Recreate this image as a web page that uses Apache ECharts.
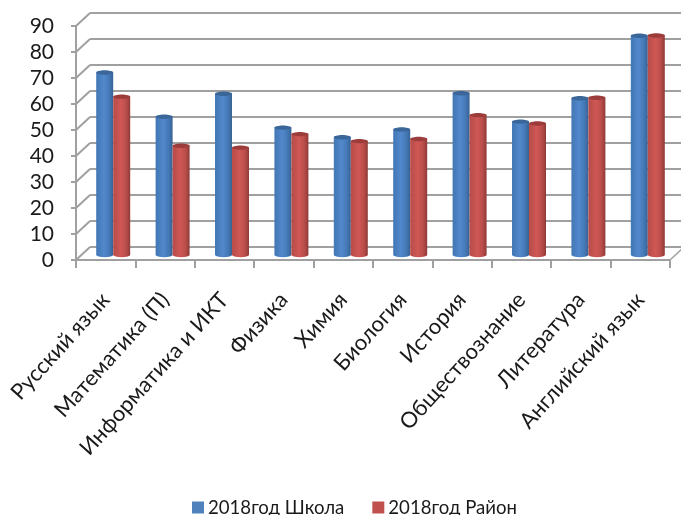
<!DOCTYPE html>
<html><head><meta charset="utf-8">
<style>html,body{margin:0;padding:0;background:#fff}#c{width:681px;height:515px}</style>
<script src="https://cdn.jsdelivr.net/npm/echarts@6/dist/echarts.min.js"></script>
</head><body><div id="c"></div>
<script>
const categories = ['Русский язык','Математика (П)','Информатика и ИКТ','Физика','Химия','Биология','История','Обществознание','Литература','Английский язык'];
const school = [70.2,53.2,62,49,45.3,48.3,62.2,51.3,60.3,84.3];
const district = [60.9,42,41.3,46.5,43.8,44.6,53.8,50.6,60.5,84.4];
const yTicks = [0,10,20,30,40,50,60,70,80,90];
const names = ['2018год Школа','2018год Район'];
const FONT = 'Lato, "Noto Sans"';
const GRID = '#a0a0a0';
const depth = [14,-13];

function cylinder(side, dark, mid, light){
  return function(params, api){
    const i = api.value(0), v = api.value(1);
    const c = api.coord([i, v]), z = api.coord([i, 0]);
    const w = 17, rx = w/2, ry = 2.2;
    const x = c[0] + 7.5 + (side === 0 ? -w : 0);
    const yT = c[1] - 5, yB = z[1] - 5;
    const grad = {type:'linear',x:0,y:0,x2:1,y2:0,colorStops:[
      {offset:0,color:mid},{offset:.1,color:mid},{offset:.45,color:light},{offset:.75,color:mid},{offset:1,color:dark}]};
    return {type:'group',children:[
      {type:'path',shape:{pathData:`M${x} ${yT}L${x} ${yB}A${rx} ${ry} 0 0 0 ${x+w} ${yB}L${x+w} ${yT}Z`},style:{fill:grad}},
      {type:'ellipse',shape:{cx:x+rx,cy:yT,rx:rx,ry:ry},style:{fill:side===0?'#3a6699':'#9c3d3b'}}
    ]};
  };
}
function frame(params, api){
  const v = api.value(0);
  const p = api.coord([0, v]);
  const cs = params.coordSys;
  const x0 = cs.x, y0 = p[1];
  const st = {stroke:GRID,lineWidth:2,fill:null};
  const kids = [
    {type:'line',shape:{x1:x0,y1:y0,x2:x0+depth[0],y2:y0+depth[1]},style:st},
    {type:'line',shape:{x1:x0+depth[0],y1:y0+depth[1],x2:681,y2:y0+depth[1]},style:st}
  ];
  if (v === 0) {
    kids.push({type:'line',shape:{x1:cs.x+cs.width,y1:y0,x2:cs.x+cs.width+depth[0],y2:y0+depth[1]},style:{stroke:GRID,lineWidth:1.5}});
  }
  return {type:'group',children:kids};
}
const chart = echarts.init(document.getElementById('c'),null,{renderer:'canvas'});
chart.setOption({
  animation:false,
  textStyle:{fontFamily:FONT},
  legend:{left:187,top:493,itemWidth:12,itemHeight:12,itemGap:28,icon:'rect',
    data:names,textStyle:{fontFamily:FONT,fontSize:18.6,color:'#1a1a1a',padding:[0,0,0,-1]}},
  grid:{left:76,top:26,width:594,height:234},
  xAxis:{type:'category',data:categories,boundaryGap:true,
    axisLine:{lineStyle:{color:GRID,width:2}},
    axisTick:{show:true,length:8,alignWithLabel:false,lineStyle:{color:GRID,width:2}},
    axisLabel:{interval:0,rotate:48,fontSize:22,color:'#1a1a1a',margin:36,fontFamily:FONT}},
  yAxis:{type:'value',min:0,max:90,interval:10,
    axisLine:{show:true,lineStyle:{color:GRID,width:2}},
    axisTick:{show:true,length:5,lineStyle:{color:GRID,width:2}},
    splitLine:{show:false},
    axisLabel:{fontSize:21,color:'#1a1a1a',margin:22,padding:[7,0,0,0],fontFamily:FONT}},
  series:[
    {type:'custom',silent:true,z:1,renderItem:frame,clip:false,data:yTicks.map(v=>[v]),encode:{y:0},legendHoverLink:false},
    {name:names[0],type:'custom',z:3,clip:false,itemStyle:{color:'#4f81bd'},renderItem:cylinder(0,'#386292','#457ab8','#5289cc'),data:school.map((v,i)=>[i,v]),encode:{x:0,y:1}},
    {name:names[1],type:'custom',z:3,clip:false,itemStyle:{color:'#c0504d'},renderItem:cylinder(1,'#8f3a38','#bb4e4b','#cf5855'),data:district.map((v,i)=>[i,v]),encode:{x:0,y:1}}
  ]
});
</script></body></html>
